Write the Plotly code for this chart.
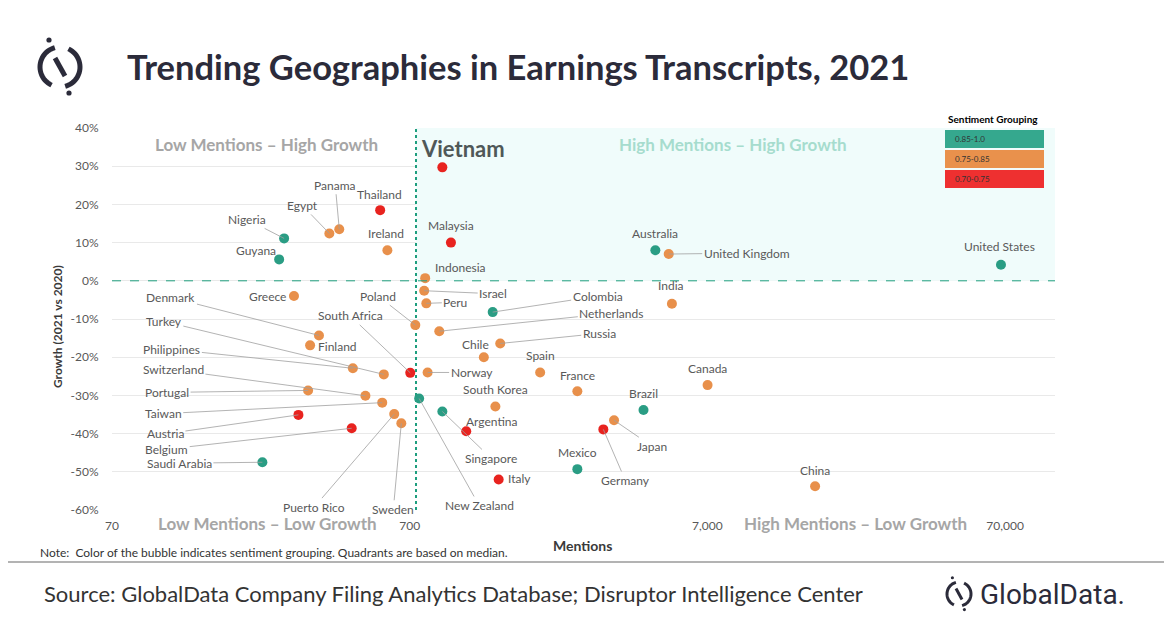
import math
import plotly.graph_objects as go

# data
countries = ['Nigeria', 'Guyana', 'Egypt', 'Panama', 'Thailand', 'Ireland', 'Greece',
             'Vietnam', 'Malaysia', 'Australia', 'United Kingdom', 'Indonesia', 'India',
             'United States', 'Denmark', 'Finland', 'Turkey', 'Philippines', 'Switzerland',
             'Portugal', 'Taiwan', 'Austria', 'Belgium', 'Saudi Arabia', 'Puerto Rico',
             'Sweden', 'New Zealand', 'Singapore', 'Italy', 'Poland', 'South Africa',
             'Israel', 'Peru', 'Colombia', 'Netherlands', 'Russia', 'Chile', 'Norway',
             'Spain', 'France', 'Canada', 'South Korea', 'Brazil', 'Argentina', 'Japan',
             'Germany', 'Mexico', 'China']
mentions = [265, 255, 376, 406, 557, 589, 286,
            901, 963, 4680, 5190, 789, 5320,
            67800, 347, 324, 573, 451, 497,
            319, 566, 296, 447, 224, 621,
            656, 753, 901, 1393, 731, 703,
            783, 796, 1330, 880, 1410, 1242, 804,
            1920, 2560, 7010, 1358, 4270, 1084, 3400,
            3130, 2560, 16100]
growth = [11.1, 5.6, 12.4, 13.5, 18.5, 8.0, -4.0,
          29.7, 10.0, 8.0, 7.0, 0.7, -6.0,
          4.2, -14.3, -16.9, -24.5, -22.9, -30.1,
          -28.7, -31.9, -35.1, -38.6, -47.5, -34.9,
          -37.3, -30.8, -34.2, -52.0, -11.6, -24.1,
          -2.6, -5.9, -8.2, -13.2, -16.4, -20.0, -24.0,
          -24.0, -28.9, -27.3, -32.9, -33.8, -39.4, -36.5,
          -38.9, -49.3, -53.8]
# 0 = 0.85-1.0, 1 = 0.75-0.85, 2 = 0.70-0.75
sentiment = [0, 0, 1, 1, 2, 1, 1,
             2, 2, 0, 1, 1, 1,
             0, 1, 1, 1, 1, 1,
             1, 1, 2, 2, 0, 1,
             1, 0, 0, 2, 1, 2,
             1, 1, 0, 1, 1, 1, 1,
             1, 1, 1, 1, 0, 2, 1,
             2, 0, 1]
group_labels = ['0.85-1.0', '0.75-0.85', '0.70-0.75']
y_ticks = [-60, -50, -40, -30, -20, -10, 0, 10, 20, 30, 40]
x_ticks = [70, 700, 7000, 70000]
x_ticktext = ['70', '700', '7,000', '70,000']
median_mentions = 735
median_growth = 0

group_colors = ['#2A9D84', '#E8904B', '#E8231F']
legend_colors = ['#35A88E', '#E9914C', '#EE3030']

# label offsets in pixels from the dot (dx, dy, draw leader line)
label_pos = {
    'Nigeria': (-37, -19, True), 'Guyana': (-23, -9, False), 'Egypt': (-27, -28, True),
    'Panama': (-4, -44, True), 'Thailand': (-1, -16, False), 'Ireland': (-1, -17, False),
    'Greece': (-26, 0, False), 'Vietnam': (21, -19, False), 'Malaysia': (0, -17, False),
    'Australia': (0, -17, False), 'United Kingdom': (78, -1, True),
    'Indonesia': (35, -11, False), 'India': (-1, -18, False), 'United States': (-1, -18, False),
    'Denmark': (-148, -38, True), 'Finland': (27, 1, False), 'Turkey': (-220, -53, True),
    'Philippines': (-181, -19, True), 'Switzerland': (-192, -26, True),
    'Portugal': (-141, 2, True), 'Taiwan': (-219, 11, True), 'Austria': (-133, 19, True),
    'Belgium': (-185, 21, True), 'Saudi Arabia': (-83, 1, True),
    'Puerto Rico': (-80, 93, True), 'Sweden': (-8, 86, True),
    'New Zealand': (60, 107, True), 'Singapore': (49, 47, True), 'Italy': (21, -1, False),
    'Poland': (-37, -29, True), 'South Africa': (-60, -57, True), 'Israel': (69, 3, True),
    'Peru': (29, -1, True), 'Colombia': (105, -16, True), 'Netherlands': (172, -18, True),
    'Russia': (99, -10, True), 'Chile': (-8, -13, False), 'Norway': (44, 0, True),
    'Spain': (0, -17, False), 'France': (0, -16, False), 'Canada': (0, -17, False),
    'South Korea': (0, -17, False), 'Brazil': (0, -16, False), 'Argentina': (26, -10, False),
    'Japan': (38, 26, True), 'Germany': (22, 51, True), 'Mexico': (0, -17, False),
    'China': (0, -16, False),
}

# the page puts the figure 8px in from the top-left corner
OFF = 8
W, H = 1172 - OFF, 628 - OFF
# plot area in page pixels
L, T, R, B = 112, 128, 1055, 510


def fx(px):
    return (px - L) / (R - L)


def fy(py):
    return (B - py) / (B - T)


fig = go.Figure()

x_max = 10 ** (math.log10(70) + (R - L) / 297.7)

# shaded high-high quadrant and vertical median line
fig.add_trace(go.Scatter(
    x=[median_mentions, x_max, x_max, median_mentions, median_mentions],
    y=[median_growth, median_growth, 40, 40, median_growth],
    fill='toself', fillcolor='#F0FCFB', line=dict(width=0),
    mode='lines', hoverinfo='skip'))
fig.add_trace(go.Scatter(
    x=[median_mentions, median_mentions], y=[-60, 40], mode='lines',
    line=dict(color='#1E9E7E', width=2, dash='dot'), hoverinfo='skip'))

for g in range(3):
    idx = [i for i, s in enumerate(sentiment) if s == g]
    fig.add_trace(go.Scatter(
        x=[mentions[i] for i in idx], y=[growth[i] for i in idx],
        text=[countries[i] for i in idx], mode='markers',
        marker=dict(color=group_colors[g], size=10, line=dict(width=0)),
        name=group_labels[g]))

annotations = []
for c, m, gr in zip(countries, mentions, growth):
    dx, dy, line = label_pos[c]
    fnt = dict(family='Lato', size=12, color='#595959')
    if c == 'Vietnam':
        fnt = dict(family='Lato', size=22, color='#4F5858', weight='bold')
    annotations.append(dict(
        x=math.log10(m), y=gr, xref='x', yref='y', text=c,
        showarrow=True, ax=dx, ay=dy, arrowhead=0, arrowwidth=0.8, standoff=0,
        arrowcolor='#A0A0A0' if line else 'rgba(0,0,0,0)', font=fnt))

quad = dict(family='Lato', size=17, color='#A6A6A6', weight='bold')
extra = [
    dict(x=fx(266), y=fy(144), text='Low Mentions – High Growth', font=quad),
    dict(x=fx(733), y=fy(144), text='High Mentions – High Growth',
         font=dict(quad, color='#A6DCCE')),
    dict(x=fx(267), y=fy(523), text='Low Mentions – Low Growth', font=quad),
    dict(x=fx(855), y=fy(523), text='High Mentions – Low Growth', font=quad),
    dict(x=fx(125), y=fy(66), xanchor='left', text='Trending Geographies in Earnings Transcripts, 2021',
         font=dict(family='Lato', size=34.5, color='#2B2B3A', weight='bold')),
    dict(x=fx(57), y=fy(327), text='Growth (2021 vs 2020)', textangle=-90,
         font=dict(family='Lato', size=12, color='#3A3A3A', weight='bold')),
    dict(x=fx(582), y=fy(545), text='Mentions',
         font=dict(family='Lato', size=14, color='#3A3A3A', weight='bold')),
    dict(x=fx(38), y=fy(552), xanchor='left',
         text='Note:  Color of the bubble indicates sentiment grouping. Quadrants are based on median.',
         font=dict(family='Lato', size=12, color='#333333')),
    dict(x=fx(42), y=fy(593), xanchor='left',
         text='Source: GlobalData Company Filing Analytics Database; Disruptor Intelligence Center',
         font=dict(family='Lato', size=22, color='#333333')),
    dict(x=fx(978), y=fy(594), xanchor='left', text='GlobalData.',
         font=dict(family='Roboto', size=28, color='#2B2B3A')),
    dict(x=fx(993), y=fy(119), text='Sentiment Grouping',
         font=dict(family='Lato', size=10, color='#000000', weight='bold')),
]
for i in range(3):
    extra.append(dict(x=fx(953), y=fy(139 + i * 20), xanchor='left', text=group_labels[i],
                      font=dict(family='Lato', size=8, color='#333333')))
for a in extra:
    a.setdefault('xanchor', 'center')
    a.update(xref='paper', yref='paper', showarrow=False, yanchor='middle')
annotations += extra

shapes = [dict(type='line', xref='paper', yref='y', x0=0, x1=1,
               y0=median_growth, y1=median_growth,
               line=dict(color='#1E9E7E', width=1, dash='dash'))]
for i in range(3):
    shapes.append(dict(type='rect', xref='paper', yref='paper', layer='above',
                       x0=fx(945), x1=fx(1044), y0=fy(130 + i * 20), y1=fy(148 + i * 20),
                       fillcolor=legend_colors[i], line=dict(width=0)))
shapes.append(dict(type='line', xref='paper', yref='paper', x0=fx(0), x1=fx(1172),
                   y0=fy(562), y1=fy(562), line=dict(color='#9A9A9A', width=1.5)))


def arc_path(cx, cy, r, a0, a1, n=24):
    pts = []
    for k in range(n + 1):
        a = math.radians(a0 + (a1 - a0) * k / n)
        pts.append((fx(cx + r * math.cos(a)), fy(cy - r * math.sin(a))))
    return 'M ' + ' L '.join(f'{x:.5f},{y:.5f}' for x, y in pts)


def logo(cx, cy, r, w):
    col = '#2B2B3A'
    out = [
        dict(type='path', path=arc_path(cx, cy, r, 105, 245), line=dict(color=col, width=w)),
        dict(type='path', path=arc_path(cx, cy, r, -75, 65), line=dict(color=col, width=w)),
        dict(type='line', x0=fx(cx - r * 0.25), y0=fy(cy - r * 0.45),
             x1=fx(cx + r * 0.25), y1=fy(cy + r * 0.45), line=dict(color=col, width=w)),
    ]
    for ddx, ddy in [(-0.55, -1.35), (0.45, 1.3)]:
        d = r * 0.13
        out.append(dict(type='circle', x0=fx(cx + ddx * r - d), x1=fx(cx + ddx * r + d),
                        y0=fy(cy + ddy * r - d), y1=fy(cy + ddy * r + d),
                        fillcolor=col, line=dict(width=0)))
    for s in out:
        s.update(xref='paper', yref='paper')
    return out


shapes += logo(60, 67, 20, 5)
shapes += logo(959, 594, 12, 3)

fig.update_layout(
    width=W, height=H,
    margin=dict(l=L - OFF, r=W - (R - OFF), t=T - OFF, b=H - (B - OFF), pad=0),
    paper_bgcolor='white', plot_bgcolor='white',
    showlegend=False,
    font=dict(family='Lato', color='#595959'),
    annotations=annotations, shapes=shapes,
    xaxis=dict(type='log', range=[math.log10(70), math.log10(x_max)],
               tickvals=x_ticks, ticktext=x_ticktext,
               showgrid=False, zeroline=False, showline=False,
               ticks='outside', ticklen=5, tickcolor='rgba(0,0,0,0)',
               tickfont=dict(size=12, color='#595959')),
    yaxis=dict(range=[-60, 40], tickvals=y_ticks, ticktext=[f'{v}%' for v in y_ticks],
               showgrid=True, gridcolor='#E9E9E9', zeroline=False, showline=False,
               ticks='outside', ticklen=10, tickcolor='rgba(0,0,0,0)',
               tickfont=dict(size=12, color='#595959')),
)

fig.write_html("out.html")
